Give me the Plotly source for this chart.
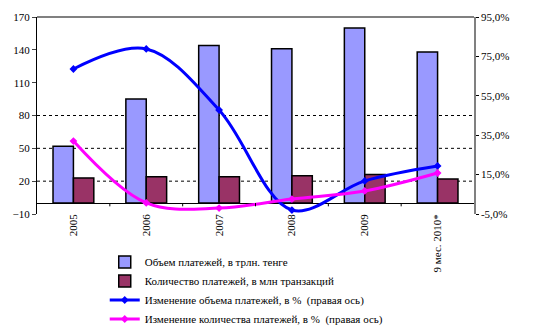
import plotly.graph_objects as go

categories = ["2005", "2006", "2007", "2008", "2009", "9 мес. 2010*"]
volume = [52, 95, 144, 141, 160, 138]
count = [23, 24, 24, 25, 26, 22]
vol_change = [68.6, 78.8, 47.8, -3.0, 11.8, 19.4]
cnt_change = [32.0, 0.6, -2.0, 2.6, 6.7, 15.8]

left_ticks = [-10, 20, 50, 80, 110, 140, 170]
right_ticks = [-5, 15, 35, 55, 75, 95]
grid_vals = [20, 50, 80]

names = ["Объем платежей, в трлн. тенге",
         "Количество платежей, в млн транзакций",
         "Изменение объема платежей, в %  (правая ось)",
         "Изменение количества платежей, в %  (правая ось)"]

FONT = "Liberation Serif"
fig = go.Figure()
fig.add_trace(go.Bar(x=categories, y=volume, name=names[0],
                     marker=dict(color="#9999FF", line=dict(color="black", width=1.5))))
fig.add_trace(go.Bar(x=categories, y=count, name=names[1],
                     marker=dict(color="#993366", line=dict(color="black", width=1.5))))
fig.add_trace(go.Scatter(x=categories, y=vol_change, name=names[2], yaxis="y2",
                         mode="lines+markers", line=dict(color="#0000FF", width=3, shape="spline"),
                         marker=dict(symbol="diamond", size=6, color="#0000FF")))
fig.add_trace(go.Scatter(x=categories, y=cnt_change, name=names[3], yaxis="y2",
                         mode="lines+markers", line=dict(color="#FF00FF", width=3, shape="spline"),
                         marker=dict(symbol="diamond", size=6, color="#FF00FF")))

shapes = []
for g in grid_vals:
    shapes.append(dict(type="line", xref="paper", x0=0, x1=1, yref="y", y0=g, y1=g,
                       line=dict(color="black", width=1, dash="dot"), layer="below"))
shapes.append(dict(type="line", xref="paper", x0=0, x1=1, yref="paper", y0=1, y1=1,
                   line=dict(color="#808080", width=2)))
for i in range(len(categories) - 1):
    shapes.append(dict(type="line", xref="x", x0=i + 0.5, x1=i + 0.5, yref="y", y0=0, y1=-3,
                       line=dict(color="black", width=1)))

fig.update_layout(
    width=534, height=334,
    margin=dict(l=37, r=60, t=17, b=120, autoexpand=False),
    paper_bgcolor="white", plot_bgcolor="white",
    font=dict(family=FONT, size=11, color="black"),
    barmode="group", bargap=0.44, bargroupgap=0,
    shapes=shapes,
    xaxis=dict(type="category", range=[-0.5, 5.5], tickangle=-90, showline=False,
               showgrid=False, ticks="", automargin=False, ticklabelstandoff=-3,
               tickfont=dict(family=FONT, size=11)),
    yaxis=dict(range=[-10, 170], tickvals=left_ticks, showgrid=False, showline=True,
               linecolor="black", linewidth=1, ticks="outside", ticklen=4,
               zeroline=True, zerolinecolor="black", zerolinewidth=1, automargin=False,
               tickfont=dict(family=FONT, size=11)),
    yaxis2=dict(range=[-5, 95], overlaying="y", side="right", tickvals=right_ticks,
                ticktext=[f"{v:.1f}%".replace(".", ",") for v in right_ticks],
                showgrid=False, zeroline=False, showline=True, linecolor="#808080",
                linewidth=1.5, ticks="outside", ticklen=3, tickcolor="black",
                automargin=False, tickfont=dict(family=FONT, size=11)),
    legend=dict(x=0.155, xanchor="left", y=-0.17, yanchor="top", tracegroupgap=0,
                font=dict(family=FONT, size=11), bgcolor="rgba(0,0,0,0)"),
    showlegend=True,
)

fig.write_html("out.html")
